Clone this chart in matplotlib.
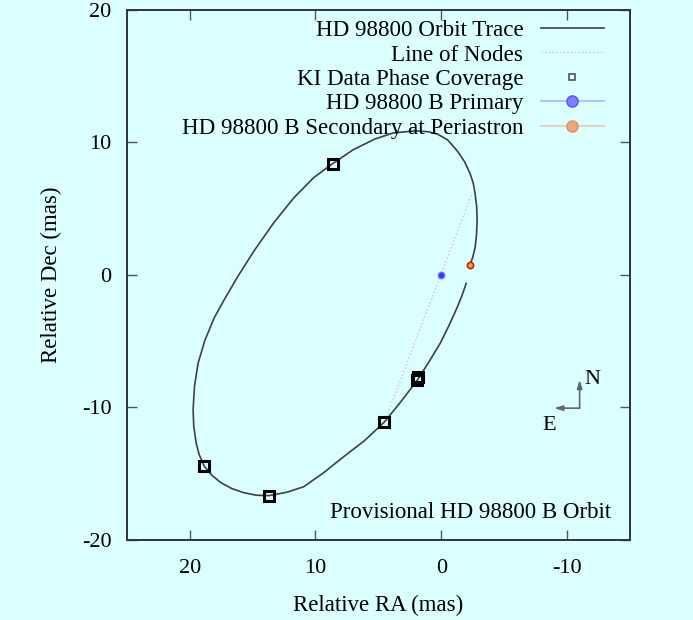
import matplotlib
matplotlib.use("Agg")
import matplotlib.pyplot as plt
from matplotlib.lines import Line2D

# orbit trace (mas), from the gap near periastron round to it
orbit_ra = [-1.98, -1.65, -1.27, -0.62, 0.08, 0.98, 1.90, 3.20, 4.52, 6.10,
            7.77, 9.35, 10.94, 12.30, 13.71, 14.70, 15.69, 16.65, 17.51, 18.25,
            18.86, 19.25, 19.49, 19.68, 19.73, 19.62, 19.33, 18.80, 18.07, 17.27,
            16.16, 14.90, 13.31, 11.73, 10.14, 8.64, 7.00, 5.30, 3.80, 2.00,
            1.00, 0.32, -0.50, -1.27, -1.85, -2.30, -2.55, -2.69, -2.82, -2.85,
            -2.80, -2.69, -2.52, -2.30]
orbit_dec = [-0.64, -1.55, -2.44, -3.80, -5.15, -6.56, -7.93, -9.55, -11.09, -12.50,
             -13.72, -14.92, -15.98, -16.40, -16.65, -16.62, -16.43, -16.12, -15.68, -15.10,
             -14.40, -13.55, -12.67, -11.40, -10.19, -8.40, -6.65, -4.95, -3.27, -1.89,
             -0.09, 1.80, 3.95, 5.81, 7.35, 8.40, 9.45, 10.25, 10.72, 10.88,
             10.80, 10.64, 10.20, 9.36, 8.55, 7.63, 6.90, 6.13, 5.10, 4.10,
             3.00, 2.07, 1.40, 0.79]

nodes_ra = [4.36, -2.46]
nodes_dec = [-10.71, 6.20]

ki_ra = [8.64, 4.52, 1.90, 1.82, 18.86, 13.71]
ki_dec = [8.38, -11.09, -7.93, -7.71, -14.40, -16.65]

primary = (0.0, 0.0)
periastron = (-2.30, 0.79)

bg = "#dbfefe"
plt.rcParams["font.family"] = ["Liberation Serif", "DejaVu Serif"]
plt.rcParams["axes.unicode_minus"] = False

fig = plt.figure(figsize=(6.93, 6.2), dpi=100, facecolor=bg)
ax = fig.add_axes([0.183, 0.129, 0.726, 0.855])
ax.set_facecolor(bg)

ax.plot(orbit_ra, orbit_dec, "-", color="#404040", lw=1.2)
ax.plot(nodes_ra, nodes_dec, ":", color="#e0b8e0", lw=1.0)
ax.plot(ki_ra, ki_dec, "s", ms=7, mfc="none", mec="black", mew=2.2)
ax.plot(*primary, "o", ms=4.5, mfc="#3535ff", mec="#6a6aff", mew=1)
ax.plot(*periastron, "o", ms=4.5, mfc="#f0a060", mec="#cc2200", mew=1.2)

# compass
arr = dict(arrowstyle="-|>,head_length=0.5,head_width=0.15", color="#666666", lw=1.2,
           shrinkA=0, shrinkB=0)
ax.annotate("", xy=(-11.0, -7.9), xytext=(-11.0, -10.05), arrowprops=arr)
ax.annotate("", xy=(-8.95, -10.05), xytext=(-11.0, -10.05), arrowprops=arr)
ax.text(-12.05, -7.9, "N", fontsize=16, ha="center", va="center")
ax.text(-8.6, -11.35, "E", fontsize=16, ha="center", va="center")

ax.text(-13.5, -17.9, "Provisional HD 98800 B Orbit", fontsize=16.5,
        ha="right", va="center")

ax.set_xlim(25, -15)
ax.set_ylim(-20, 20)
ax.set_xticks([20, 10, 0, -10])
ax.set_yticks([20, 10, 0, -10, -20])
ax.tick_params(direction="in", length=7, width=1, color="#555555",
               top=True, right=True, labelsize=16)
ax.tick_params(axis="x", pad=14)
ax.tick_params(axis="y", pad=11)
for s in ax.spines.values():
    s.set_color("#333333")
    s.set_linewidth(1.4)
ax.set_xlabel("Relative RA (mas)", fontsize=16.5, labelpad=12)
ax.set_ylabel("Relative Dec (mas)", fontsize=16.5, labelpad=14)

handles = [
    Line2D([], [], color="#404040", lw=1.2),
    Line2D([], [], color="#e0b8e0", lw=1.0, ls=":"),
    Line2D([], [], ls="none", marker="s", ms=5, mfc="none", mec="#555555", mew=1.2),
    Line2D([], [], color="#b0b0ff", lw=1.2, marker="o", ms=8, mfc="#8080ff", mec="#5050ff"),
    Line2D([], [], color="#e6c8b0", lw=1.2, marker="o", ms=8, mfc="#f0a878", mec="#e09060"),
]
labels = ["HD 98800 Orbit Trace", "Line of Nodes", "KI Data Phase Coverage",
          "HD 98800 B Primary", "HD 98800 B Secondary at Periastron"]
ax.legend(handles, labels, loc="upper right", bbox_to_anchor=(604 / 693, 1 - 20 / 620),
          bbox_transform=fig.transFigure, frameon=False, markerfirst=False,
          fontsize=16.6, handlelength=2.75, handletextpad=0.75, labelspacing=0.14,
          borderpad=0, borderaxespad=0)

fig.savefig("out.png", dpi=100, facecolor=bg)
